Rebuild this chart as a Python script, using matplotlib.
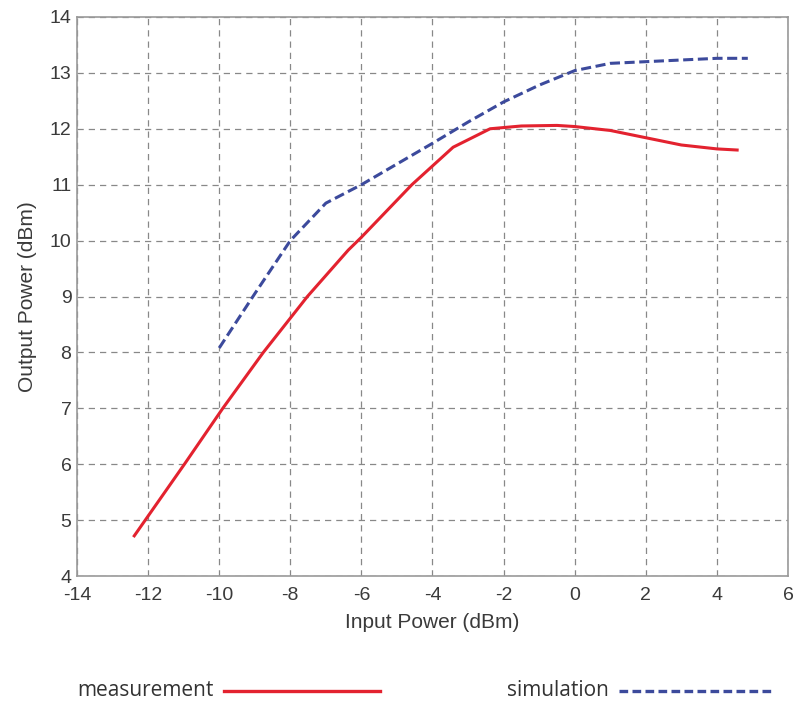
import numpy as np
import matplotlib.pyplot as plt
from matplotlib.lines import Line2D

meas_x = [-12.39, -10.98, -9.9, -8.76, -7.52, -6.37, -6.0, -4.58, -3.42, -2.38, -1.5, -0.5, 0.0, 1.0, 2.0, 3.0, 4.0, 4.57]
meas_y = [4.72, 6.00, 7.00, 8.00, 9.00, 9.83, 10.06, 11.00, 11.67, 12.00, 12.05, 12.06, 12.04, 11.97, 11.84, 11.71, 11.64, 11.62]

# simulation curve
sim_x = [-10.0, -9.0, -8.0, -7.0, -6.0, -5.0, -4.0, -3.0, -2.0, -1.0, 0.0, 1.0, 2.0, 3.0, 4.0, 4.87]
sim_y = [8.08, 9.05, 10.00, 10.67, 11.00, 11.37, 11.74, 12.12, 12.48, 12.78, 13.04, 13.17, 13.20, 13.23, 13.26, 13.26]

xticks = np.arange(-14, 7, 2)
yticks = np.arange(4, 15, 1)

plt.rcParams['font.family'] = ['Liberation Sans', 'DejaVu Sans']
plt.rcParams['axes.unicode_minus'] = False

fig = plt.figure(figsize=(7.99, 7.06), dpi=100)
ax = fig.add_axes([0.0964, 0.184, 0.8898, 0.792])

ax.plot(meas_x, meas_y, color='#e3222f', lw=2.2)
ax.plot(sim_x, sim_y, color='#3c4a9c', lw=2.2, dashes=(3.3, 1.5))

ax.set_xlim(-14, 6)
ax.set_ylim(4, 14)
ax.set_xticks(xticks)
ax.set_yticks(yticks)
ax.tick_params(labelsize=14, length=0, colors='#3a3a3a')
ax.tick_params(axis='x', pad=8)
ax.tick_params(axis='y', pad=4)
ax.grid(True, color='#888888', ls=(0, (5, 4)), lw=0.9)
for s in ax.spines.values():
    s.set_color('#999999')
    s.set_linewidth(1.2)

ax.set_xlabel('Input Power (dBm)', fontsize=15, color='#3a3a3a', labelpad=6)
ax.set_ylabel('Output Power (dBm)', fontsize=15, color='#3a3a3a', labelpad=9)

# legend below the plot
fig.text(77 / 799, 1 - 690 / 706, 'measurement', fontsize=15, va='center',
         family=['Open Sans', 'DejaVu Sans'], color='#333333')
fig.add_artist(Line2D([224 / 799, 380 / 799], [1 - 691 / 706] * 2, color='#e3222f', lw=2.4))
fig.text(507 / 799, 1 - 690 / 706, 'simulation', fontsize=15, va='center',
         family=['Open Sans', 'DejaVu Sans'], color='#333333')
fig.add_artist(Line2D([619 / 799, 774 / 799], [1 - 691 / 706] * 2, color='#3c4a9c',
                      lw=2.4, dashes=(2.6, 1.3)))

fig.savefig('out.png', dpi=100)
